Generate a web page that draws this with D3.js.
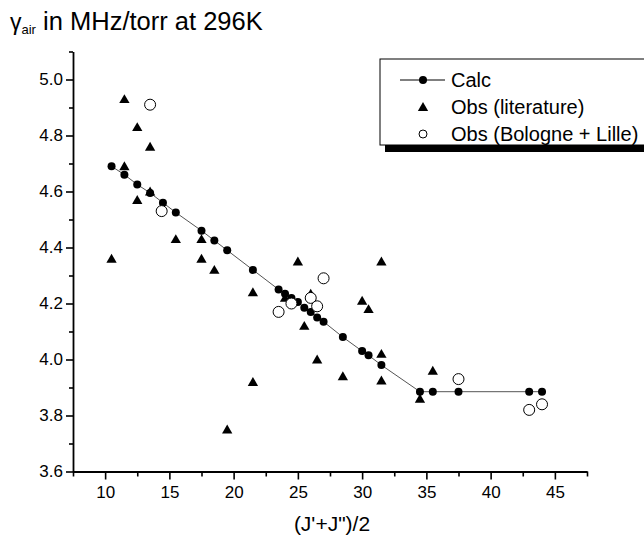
<!DOCTYPE html>
<html>
<head>
<meta charset="utf-8">
<script src="https://cdn.jsdelivr.net/npm/d3@7"></script>
<style>
  body { margin: 0; background: #fff; }
  svg text { font-family: Arial, "Liberation Sans", Helvetica, sans-serif; fill: #000; }
</style>
</head>
<body>
<div id="chart"></div>
<script>
// calculated gamma_air, (J'+J")/2 vs MHz/torr
var calcJ = [10.5, 11.5, 12.5, 13.5, 14.5, 15.5, 17.5, 18.5, 19.5, 21.5, 23.5, 24, 24.5, 25, 25.5, 26, 26.5, 27, 28.5, 30, 30.5, 31.5, 34.5, 35.5, 37.5, 43, 44]
var calcG = [4.69, 4.66, 4.625, 4.595, 4.56, 4.525, 4.46, 4.425, 4.39, 4.32, 4.25, 4.235, 4.22, 4.205, 4.185, 4.17, 4.15, 4.135, 4.08, 4.03, 4.015, 3.98, 3.885, 3.885, 3.885, 3.885, 3.885]

// literature observations
var litJ = [11.5, 12.5, 13.5, 11.5, 13.5, 12.5, 10.5, 15.5, 17.5, 17.5, 18.5, 21.5, 25, 31.5, 24, 26, 30, 30.5, 25.5, 26.5, 28.5, 31.5, 31.5, 21.5, 19.5, 35.5, 34.5]
var litG = [4.93, 4.83, 4.76, 4.69, 4.60, 4.57, 4.36, 4.43, 4.43, 4.36, 4.32, 4.24, 4.35, 4.35, 4.22, 4.235, 4.21, 4.18, 4.12, 4.0, 3.94, 4.02, 3.925, 3.92, 3.75, 3.96, 3.86]

// Bologne + Lille observations
var blJ = [13.5, 14.4, 23.5, 24.5, 26, 26.5, 27, 37.5, 43, 44]
var blG = [4.91, 4.53, 4.17, 4.20, 4.22, 4.19, 4.29, 3.93, 3.82, 3.84]

var xMajor = [10, 15, 20, 25, 30, 35, 40, 45]
var xMinor = [7.5, 12.5, 17.5, 22.5, 27.5, 32.5, 37.5, 42.5, 47.5]
var yMajor = [3.6, 3.8, 4.0, 4.2, 4.4, 4.6, 4.8, 5.0]
var yMinor = [3.7, 3.9, 4.1, 4.3, 4.5, 4.7, 4.9, 5.1]

var legendNames = ['Calc', 'Obs (literature)', 'Obs (Bologne + Lille)']

var width = 644, height = 538
var svg = d3.select('#chart').append('svg')
  .attr('width', width).attr('height', height)

var x = d3.scaleLinear().domain([7.5, 47.5]).range([73, 587])
var y = d3.scaleLinear().domain([3.6, 5.1]).range([471.5, 51.5])

var zip = (a, b) => a.map((d, i) => [d, b[i]])
var calc = zip(calcJ, calcG)
var lit = zip(litJ, litG)
var bl = zip(blJ, blG)

// title
var title = svg.append('text').attr('x', 10).attr('y', 30)
title.append('tspan').text('γ').style('font-size', '23px')
title.append('tspan').text('air').attr('dy', 4).style('font-size', '13px')
title.append('tspan').text(' in MHz/torr at 296K').attr('dy', -4).style('font-size', '25.5px')

// axes
function styleAxis(g) {
  g.select('.domain').attr('stroke', '#000').attr('stroke-width', 1.8)
  g.selectAll('line').attr('stroke', '#000').attr('stroke-width', 1.6)
  g.selectAll('text').style('font-size', '17px').attr('fill', '#000')
}

var xAxisG = svg.append('g').attr('transform', 'translate(0,' + y(3.6) + ')')
xAxisG.call(d3.axisBottom(x).tickValues(xMajor).tickSize(8).tickPadding(6).tickSizeOuter(0))
xAxisG.append('g').call(d3.axisBottom(x).tickValues(xMinor).tickSize(5).tickFormat('').tickSizeOuter(0))
  .select('.domain').remove()
styleAxis(xAxisG)

var yAxisG = svg.append('g').attr('transform', 'translate(' + x(7.5) + ',0)')
yAxisG.call(d3.axisLeft(y).tickValues(yMajor).tickSize(7).tickPadding(3).tickFormat(d3.format('.1f')).tickSizeOuter(0))
yAxisG.append('g').call(d3.axisLeft(y).tickValues(yMinor).tickSize(4).tickFormat('').tickSizeOuter(0))
  .select('.domain').remove()
styleAxis(yAxisG)

svg.append('text').text('(J\'+J")/2')
  .attr('x', (x.range()[0] + x.range()[1]) / 2 + 2).attr('y', 531)
  .attr('text-anchor', 'middle').style('font-size', '21px')

// symbols
var tri = d3.symbol().type(d3.symbolTriangle).size(46)

svg.append('path').datum(calc)
  .attr('d', d3.line().x(d => x(d[0])).y(d => y(d[1])))
  .attr('fill', 'none').attr('stroke', '#555').attr('stroke-width', 1)

svg.append('g').selectAll('path').data(lit).join('path')
  .attr('d', tri)
  .attr('transform', d => 'translate(' + x(d[0]) + ',' + (y(d[1]) + 1) + ')')
  .attr('fill', '#000')

svg.append('g').selectAll('circle').data(calc).join('circle')
  .attr('cx', d => x(d[0])).attr('cy', d => y(d[1])).attr('r', 4)
  .attr('fill', '#000')

svg.append('g').selectAll('circle').data(bl).join('circle')
  .attr('cx', d => x(d[0])).attr('cy', d => y(d[1])).attr('r', 5.5)
  .attr('fill', '#fff').attr('stroke', '#000').attr('stroke-width', 1)

// legend
var lg = svg.append('g').attr('transform', 'translate(380,59)')
lg.append('rect').attr('x', 5).attr('y', 7).attr('width', 300).attr('height', 86).attr('fill', '#000')
lg.append('rect').attr('x', 0).attr('y', 0).attr('width', 300).attr('height', 86)
  .attr('fill', '#fff').attr('stroke', '#000').attr('stroke-width', 1)

var rows = [21, 48, 75]
lg.append('line').attr('x1', 20).attr('x2', 65).attr('y1', rows[0]).attr('y2', rows[0])
  .attr('stroke', '#000').attr('stroke-width', 1)
lg.append('circle').attr('cx', 43).attr('cy', rows[0]).attr('r', 4).attr('fill', '#000')
lg.append('path').attr('d', tri).attr('transform', 'translate(43,' + (rows[1] + 1) + ')').attr('fill', '#000')
lg.append('circle').attr('cx', 43).attr('cy', rows[2]).attr('r', 4)
  .attr('fill', '#fff').attr('stroke', '#000').attr('stroke-width', 1)

lg.selectAll('text.lab').data(legendNames).join('text').attr('class', 'lab')
  .attr('x', 71).attr('y', (d, i) => rows[i] + 7)
  .style('font-size', '20px')
  .text(d => d)
</script>
</body>
</html>
